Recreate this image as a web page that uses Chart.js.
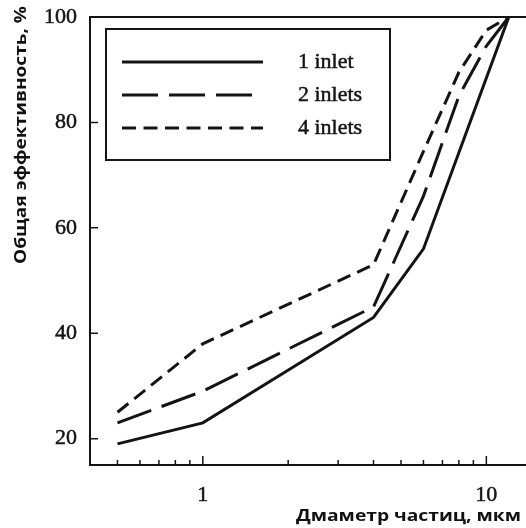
<!DOCTYPE html>
<html>
<head>
<meta charset="utf-8">
<script src="https://cdn.jsdelivr.net/npm/chart.js@4/dist/chart.umd.min.js"></script>
<style>
  html, body { margin: 0; padding: 0; background: #fff; }
  canvas { display: block; }
</style>
</head>
<body>
<canvas id="effChart" width="526" height="528"></canvas>
<script>
// particle diameter (um) vs overall efficiency (%) for each inlet count
const dia1 = [0.5, 1, 4, 6, 12];
const eff1 = [19, 23, 43, 56, 100];
const dia2 = [0.5, 1, 4, 6, 8, 10, 12];
const eff2 = [23, 29, 45, 66, 85, 94.5, 100];
const dia4 = [0.5, 1, 4, 6, 8, 10, 12];
const eff4 = [25, 38, 53, 74.5, 89.5, 97.5, 100];

const seriesNames = ['1 inlet', '2 inlets', '4 inlets'];
const xTickValues = [0.5, 0.6, 0.7, 0.8, 0.9, 1, 2, 3, 4, 5, 6, 7, 8, 9, 10];
const xLabels = [1, 10];
const yTickValues = [20, 40, 60, 80, 100];

const INK = '#141414';
const pts = (xs, ys) => xs.map((x, i) => ({ x: x, y: ys[i] }));

const mkSet = (label, data, dash) => ({
    label, data,
    borderColor: INK, borderWidth: 3, borderDash: dash,
    pointRadius: 0, fill: false, tension: 0, clip: false
});

// text squeezed/stretched along its own direction to a given run length
function fitText(ctx, text, x, y, len) {
    const w = ctx.measureText(text).width;
    ctx.save();
    ctx.translate(x, y);
    ctx.scale(len / w, 1);
    ctx.fillText(text, 0, 0);
    ctx.restore();
}

// axes frame, inward ticks, boxed legend and the axis titles
const framePlugin = {
    id: 'frame',
    afterDatasetsDraw(chart) {
        const { ctx, chartArea: a, scales: { x, y } } = chart;
        ctx.save();
        ctx.strokeStyle = INK;
        ctx.lineWidth = 2;
        ctx.setLineDash([]);
        ctx.beginPath();
        ctx.moveTo(a.right, a.top); ctx.lineTo(a.left, a.top);
        ctx.lineTo(a.left, a.bottom); ctx.lineTo(a.right, a.bottom);
        ctx.stroke();

        ctx.lineWidth = 1.5;
        ctx.beginPath();
        xTickValues.forEach(v => {
            const px = x.getPixelForValue(v);
            const len = xLabels.includes(v) ? 9 : 5;
            ctx.moveTo(px, a.bottom); ctx.lineTo(px, a.bottom - len);
        });
        yTickValues.forEach(v => {
            const py = y.getPixelForValue(v);
            ctx.moveTo(a.left, py); ctx.lineTo(a.left + 8, py);
        });
        ctx.stroke();

        // legend
        ctx.lineWidth = 2;
        ctx.strokeRect(106, 29, 284, 131);
        ctx.font = '22px "Liberation Serif"';
        ctx.fillStyle = INK;
        ctx.textAlign = 'left';
        ctx.textBaseline = 'middle';
        chart.data.datasets.forEach((ds, i) => {
            const ly = 62 + i * 33;
            ctx.lineWidth = ds.borderWidth;
            ctx.setLineDash(ds.borderDash);
            ctx.beginPath();
            ctx.moveTo(122, ly); ctx.lineTo(263, ly);
            ctx.stroke();
            ctx.setLineDash([]);
            ctx.lineWidth = 0.5;
            ctx.fillText(ds.label, 298, ly);
            ctx.strokeText(ds.label, 298, ly);
        });

        // axis titles
        ctx.font = 'bold 16px "Open Sans"';
        ctx.fillStyle = '#111';
        ctx.textAlign = 'right';
        ctx.textBaseline = 'alphabetic';
        fitText(ctx, 'Дмаметр частиц, мкм', 521, 521, 225);

        ctx.translate(21, 135);
        ctx.rotate(-Math.PI / 2);
        ctx.textAlign = 'center';
        ctx.textBaseline = 'middle';
        fitText(ctx, 'Общая эффективность, %', 0, 0, 258);
        ctx.restore();
    }
};

new Chart(document.getElementById('effChart').getContext('2d'), {
    type: 'line',
    data: {
        datasets: [
            mkSet(seriesNames[0], pts(dia1, eff1), []),
            mkSet(seriesNames[1], pts(dia2, eff2), [36, 11]),
            mkSet(seriesNames[2], pts(dia4, eff4), [14, 7.5])
        ]
    },
    options: {
        responsive: false,
        animation: false,
        layout: { padding: 0 },
        plugins: { legend: { display: false }, tooltip: { enabled: false } },
        scales: {
            x: {
                type: 'logarithmic', min: 0.4, max: 13.8,
                afterBuildTicks: s => { s.ticks = xTickValues.map(v => ({ value: v })); },
                afterFit: s => { s.height = 63; s.paddingLeft = 0; s.paddingRight = 0; },
                grid: { display: false, drawTicks: false },
                border: { display: false },
                ticks: {
                    autoSkip: false, maxRotation: 0, padding: 17,
                    color: INK, font: { family: 'Liberation Serif', size: 22 },
                    textStrokeColor: INK, textStrokeWidth: 0.5,
                    callback: v => xLabels.includes(v) ? String(v) : ''
                }
            },
            y: {
                min: 15, max: 100,
                afterBuildTicks: s => { s.ticks = yTickValues.map(v => ({ value: v })); },
                afterFit: s => { s.width = 90; s.paddingTop = 17; s.paddingBottom = 0; },
                grid: { display: false, drawTicks: false },
                border: { display: false },
                ticks: {
                    padding: 13,
                    color: INK, font: { family: 'Liberation Serif', size: 22 },
                    textStrokeColor: INK, textStrokeWidth: 0.5
                }
            }
        }
    },
    plugins: [framePlugin]
});
</script>
</body>
</html>
